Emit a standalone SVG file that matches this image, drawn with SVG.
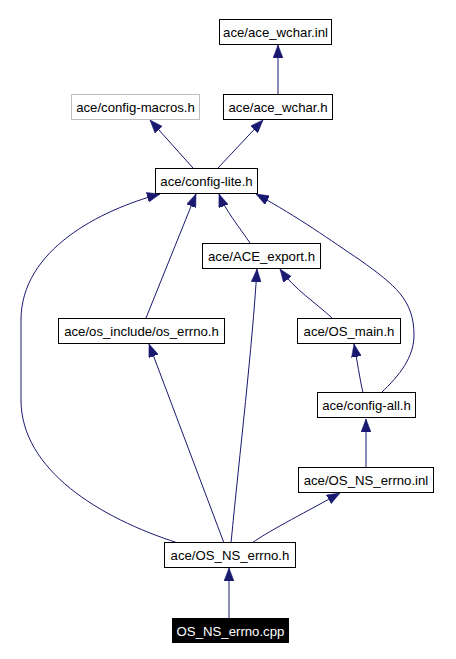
<svg xmlns="http://www.w3.org/2000/svg" width="456" height="659" viewBox="0 0 456 659">
<style>
.box{fill:#ffffff;stroke:#000000;stroke-width:1}
.gray{fill:#ffffff;stroke:#bfbfbf;stroke-width:1}
.dark{fill:#000000;stroke:#000000;stroke-width:1}
.lbl{font-family:"Liberation Sans",Arial,sans-serif;font-size:13.2px;text-anchor:middle;fill:#000000}
.wl{fill:#ffffff}
.edge{fill:none;stroke:#191970;stroke-width:1;marker-end:url(#arr)}
</style>
<defs>
<marker id="arr" viewBox="0 0 13 10" refX="13" refY="5" markerWidth="13" markerHeight="10" markerUnits="userSpaceOnUse" orient="auto">
<path d="M0,0 L13,5 L0,10 z" fill="#191970" stroke="#191970" stroke-width="0.5"/>
</marker>
</defs>
<rect width="456" height="659" fill="#ffffff"/>
<g id="edges">
<path class="edge" d="M278,94 L278,45"/>
<path class="edge" d="M193,168 L150,120"/>
<path class="edge" d="M218,168 L263,120"/>
<path class="edge" d="M178,543 C100,518 21,470 21,400 L21,320 C21,250 100,210 160,194"/>
<path class="edge" d="M146,318 L196,194"/>
<path class="edge" d="M250,243 C240,228 225,210 219,194"/>
<path class="edge" d="M381,393 C400,375 414,357 414,335 C414,300 395,285 360,260 C330,240 300,218 256,194"/>
<path class="edge" d="M224,543 L149,344"/>
<path class="edge" d="M231,543 C240,450 252,350 257,269"/>
<path class="edge" d="M332,318 C315,302 295,290 280,269"/>
<path class="edge" d="M363,393 C360,380 357,360 354,344"/>
<path class="edge" d="M366,467 L366,419"/>
<path class="edge" d="M252,543 C270,530 310,510 340,493"/>
<path class="edge" d="M229,618 L229,568"/>
</g>
<g id="node-ace_wchar_inl"><rect class="box" x="219.5" y="19.5" width="112" height="25"/><text class="lbl" x="275.5" y="37">ace/ace_wchar.inl</text></g>
<g id="node-ace_wchar_h"><rect class="box" x="223.5" y="94.5" width="109" height="25"/><text class="lbl" x="278" y="112">ace/ace_wchar.h</text></g>
<g id="node-config_macros"><rect class="gray" x="71.5" y="94.5" width="128" height="25"/><text class="lbl" x="135.5" y="112">ace/config-macros.h</text></g>
<g id="node-config_lite"><rect class="box" x="155.5" y="168.5" width="102" height="25"/><text class="lbl" x="206.5" y="186">ace/config-lite.h</text></g>
<g id="node-ACE_export"><rect class="box" x="202.5" y="243.5" width="118" height="25"/><text class="lbl" x="261.5" y="261">ace/ACE_export.h</text></g>
<g id="node-os_errno"><rect class="box" x="58.5" y="318.5" width="166" height="25"/><text class="lbl" x="141.5" y="336">ace/os_include/os_errno.h</text></g>
<g id="node-OS_main"><rect class="box" x="297.5" y="318.5" width="103" height="25"/><text class="lbl" x="349" y="336">ace/OS_main.h</text></g>
<g id="node-config_all"><rect class="box" x="317.5" y="392.5" width="98" height="25"/><text class="lbl" x="366.5" y="410">ace/config-all.h</text></g>
<g id="node-OS_NS_errno_inl"><rect class="box" x="298.5" y="467.5" width="135" height="25"/><text class="lbl" x="366" y="485">ace/OS_NS_errno.inl</text></g>
<g id="node-OS_NS_errno_h"><rect class="box" x="164.5" y="542.5" width="131" height="25"/><text class="lbl" x="230" y="560">ace/OS_NS_errno.h</text></g>
<g id="node-OS_NS_errno_cpp"><rect class="dark" x="172.5" y="618.5" width="116" height="24"/><text class="lbl wl" x="230.5" y="636">OS_NS_errno.cpp</text></g>
</svg>
